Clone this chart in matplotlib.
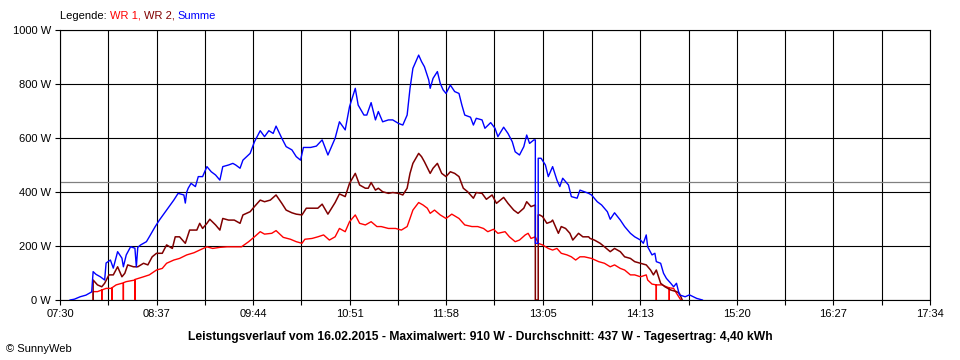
import matplotlib
matplotlib.use("Agg")
import matplotlib.pyplot as plt

plt.rcParams['font.family'] = ['Liberation Sans', 'DejaVu Sans']

# ---------------- data ----------------
summe_times = ["07:37", "07:40", "07:44", "07:48", "07:51", "07:52", "07:53", "07:55", "07:58", "08:01",
               "08:02", "08:05", "08:07", "08:10", "08:13", "08:14", "08:16", "08:19", "08:22", "08:23",
               "08:24", "08:26", "08:30", "08:32", "08:36", "08:39", "08:44", "08:49", "08:52", "08:56",
               "08:57", "08:58", "08:59", "09:01", "09:04", "09:06", "09:09", "09:12", "09:15", "09:18",
               "09:21", "09:23", "09:27", "09:30", "09:32", "09:35", "09:37", "09:42", "09:45", "09:49",
               "09:52", "09:55", "09:58", "10:00", "10:04", "10:07", "10:11", "10:14", "10:17", "10:19",
               "10:24", "10:28", "10:32", "10:36", "10:41", "10:44", "10:48", "10:51", "10:55", "10:57",
               "11:01", "11:03", "11:06", "11:09", "11:11", "11:14", "11:18", "11:21", "11:25", "11:28",
               "11:31", "11:33", "11:35", "11:39", "11:41", "11:43", "11:46", "11:47", "11:49", "11:52",
               "11:54", "11:56", "11:58", "12:01", "12:04", "12:07", "12:09", "12:11", "12:15", "12:17",
               "12:19", "12:23", "12:25", "12:29", "12:32", "12:34", "12:38", "12:41", "12:44", "12:46",
               "12:49", "12:52", "12:54", "12:56", "12:59", "13:00", "13:00", "13:02", "13:02", "13:04",
               "13:07", "13:09", "13:12", "13:15", "13:17", "13:19", "13:23", "13:25", "13:29", "13:31",
               "13:34", "13:37", "13:39", "13:43", "13:46", "13:50", "13:52", "13:55", "13:59", "14:02",
               "14:06", "14:09", "14:13", "14:15", "14:17", "14:18", "14:21", "14:23", "14:24", "14:27",
               "14:29", "14:31", "14:34", "14:36", "14:38", "14:40", "14:44", "14:47", "14:52", "14:56"]
summe_values = [0, 3, 12, 18, 27, 30, 105, 95, 86, 74,
                137, 148, 118, 179, 155, 123, 167, 197, 192, 123,
                195, 204, 216, 234, 271, 296, 333, 370, 395, 389,
                359, 400, 414, 432, 420, 457, 457, 494, 475, 463,
                444, 494, 500, 506, 500, 488, 518, 543, 586, 627,
                605, 627, 617, 644, 599, 568, 556, 531, 518, 565,
                565, 570, 593, 537, 599, 660, 630, 716, 784, 722,
                685, 685, 731, 667, 698, 660, 667, 667, 654, 648,
                685, 784, 858, 907, 883, 864, 815, 784, 821, 846,
                802, 778, 765, 796, 772, 765, 722, 685, 677, 648,
                673, 667, 636, 657, 636, 605, 640, 617, 586, 549,
                537, 568, 611, 580, 593, 593, 210, 210, 525, 525,
                500, 457, 494, 444, 420, 451, 426, 383, 377, 407,
                401, 395, 389, 364, 352, 327, 299, 323, 296, 272,
                247, 234, 222, 210, 241, 197, 167, 173, 142, 136,
                99, 80, 62, 49, 62, 19, 12, 19, 6, 0]

wr2_times = ["07:53", "07:53", "07:56", "07:59", "08:01", "08:04", "08:07", "08:10", "08:13", "08:15",
             "08:17", "08:21", "08:24", "08:28", "08:31", "08:34", "08:37", "08:41", "08:44", "08:48",
             "08:50", "08:53", "08:57", "09:00", "09:05", "09:07", "09:09", "09:12", "09:14", "09:18",
             "09:21", "09:23", "09:27", "09:31", "09:35", "09:37", "09:42", "09:45", "09:49", "09:52",
             "09:56", "10:00", "10:04", "10:07", "10:11", "10:14", "10:18", "10:21", "10:26", "10:29",
             "10:32", "10:36", "10:41", "10:44", "10:48", "10:51", "10:55", "10:58", "11:02", "11:04",
             "11:06", "11:09", "11:11", "11:14", "11:18", "11:21", "11:25", "11:28", "11:31", "11:33",
             "11:35", "11:39", "11:41", "11:43", "11:47", "11:49", "11:52", "11:55", "11:58", "12:01",
             "12:04", "12:07", "12:10", "12:13", "12:17", "12:19", "12:23", "12:26", "12:30", "12:33",
             "12:38", "12:41", "12:45", "12:48", "12:52", "12:54", "12:57", "13:00", "13:00", "13:02",
             "13:02", "13:03", "13:05", "13:08", "13:11", "13:12", "13:16", "13:18", "13:21", "13:24",
             "13:26", "13:30", "13:33", "13:37", "13:38", "13:41", "13:45", "13:48", "13:52", "13:55",
             "13:59", "14:02", "14:06", "14:09", "14:13", "14:17", "14:20", "14:22", "14:24", "14:27",
             "14:30", "14:34", "14:38", "14:40", "14:42"]
wr2_values = [0, 74, 56, 49, 62, 93, 93, 123, 86, 99,
              130, 123, 123, 136, 130, 160, 173, 173, 204, 191,
              234, 234, 210, 259, 259, 284, 265, 284, 299, 278,
              259, 302, 296, 296, 284, 315, 327, 346, 370, 364,
              370, 389, 358, 333, 323, 318, 315, 340, 340, 340,
              355, 318, 361, 393, 383, 432, 469, 426, 414, 414,
              435, 407, 414, 401, 395, 398, 395, 389, 414, 469,
              506, 543, 531, 512, 469, 488, 506, 469, 457, 475,
              469, 457, 414, 401, 377, 398, 395, 373, 389, 358,
              380, 358, 333, 321, 340, 364, 346, 352, 0, 0,
              315, 315, 309, 284, 290, 296, 247, 272, 265, 247,
              222, 247, 234, 234, 228, 222, 210, 197, 179, 191,
              179, 160, 154, 142, 136, 130, 111, 93, 111, 62,
              49, 37, 31, 25, 0]

wr1_times = ["07:53", "07:53", "07:56", "07:59", "07:59", "07:59", "08:02", "08:06", "08:06", "08:06",
             "08:09", "08:13", "08:14", "08:14", "08:14", "08:16", "08:22", "08:22", "08:22", "08:28",
             "08:32", "08:37", "08:41", "08:44", "08:49", "08:53", "08:58", "09:03", "09:07", "09:12",
             "09:16", "09:21", "09:26", "09:30", "09:36", "09:41", "09:45", "09:49", "09:52", "09:57",
             "10:00", "10:05", "10:10", "10:14", "10:18", "10:20", "10:25", "10:29", "10:33", "10:37",
             "10:41", "10:44", "10:48", "10:51", "10:55", "10:58", "11:02", "11:06", "11:10", "11:13",
             "11:18", "11:23", "11:27", "11:31", "11:33", "11:35", "11:39", "11:42", "11:45", "11:47",
             "11:50", "11:54", "11:58", "12:02", "12:07", "12:11", "12:16", "12:20", "12:24", "12:27",
             "12:31", "12:34", "12:39", "12:42", "12:46", "12:49", "12:53", "12:55", "12:57", "13:00",
             "13:02", "13:05", "13:09", "13:12", "13:15", "13:18", "13:22", "13:25", "13:28", "13:31",
             "13:34", "13:39", "13:44", "13:48", "13:52", "13:55", "13:59", "14:02", "14:06", "14:09",
             "14:13", "14:17", "14:18", "14:21", "14:24", "14:24", "14:24", "14:28", "14:31", "14:33",
             "14:33", "14:33", "14:36", "14:38", "14:41"]
wr1_values = [0, 31, 31, 37, 0, 37, 43, 43, 0, 45,
              56, 62, 62, 0, 64, 68, 74, 0, 76, 86,
              93, 111, 117, 136, 148, 154, 167, 175, 185, 197,
              191, 195, 197, 197, 197, 216, 234, 253, 244, 247,
              257, 232, 225, 216, 210, 225, 228, 234, 241, 222,
              234, 265, 253, 290, 315, 284, 278, 290, 272, 272,
              265, 265, 259, 272, 302, 333, 361, 352, 340, 321,
              333, 315, 302, 318, 302, 278, 272, 272, 265, 253,
              262, 247, 253, 234, 216, 222, 241, 247, 228, 234,
              210, 204, 191, 185, 191, 173, 167, 160, 148, 160,
              160, 154, 142, 136, 123, 130, 117, 111, 93, 93,
              86, 93, 74, 59, 56, 0, 56, 56, 49, 45,
              0, 45, 43, 25, 0]

average_w = 437
x_start, x_end = "07:30", "17:34"
x_tick_labels = ["07:30", "08:37", "09:44", "10:51", "11:58", "13:05", "14:13", "15:20", "16:27", "17:34"]
y_ticks = [0, 200, 400, 600, 800, 1000]
y_tick_labels = ["0 W", "200 W", "400 W", "600 W", "800 W", "1000 W"]
title = ("Leistungsverlauf vom 16.02.2015 - Maximalwert: 910 W - Durchschnitt: 437 W "
         "- Tagesertrag: 4,40 kWh")


def to_min(s):
    h, m = s.split(":")
    return int(h) * 60 + int(m)


# ---------------- figure ----------------
W, H = 960, 360
fig = plt.figure(figsize=(W / 100, H / 100), dpi=100)
fig.patch.set_facecolor("white")
ax = fig.add_axes([60 / W, 60 / H, 870 / W, 270 / H])

ax.set_xlim(to_min(x_start), to_min(x_end))
ax.set_ylim(0, 1000)

major = [to_min(s) for s in x_tick_labels]
minor = [(a + b) / 2 for a, b in zip(major[:-1], major[1:])]
ax.set_xticks(major)
ax.set_xticklabels(x_tick_labels)
ax.set_xticks(minor, minor=True)
ax.set_yticks(y_ticks)
ax.set_yticklabels(y_tick_labels)

ax.grid(True, which="both", axis="x", color="black", lw=0.8, zorder=1)
ax.grid(True, which="major", axis="y", color="black", lw=0.8, zorder=1)
ax.set_axisbelow(True)
for sp in ax.spines.values():
    sp.set_color("black")
    sp.set_linewidth(0.8)

ax.tick_params(axis="both", which="both", direction="out", length=3.6, width=0.8,
               color="black", labelsize=8, labelcolor="black")
ax.tick_params(axis="x", which="both", pad=3)
ax.tick_params(axis="y", pad=3)

ax.axhline(average_w, color="#808080", lw=0.9, zorder=1.5)

ax.plot([to_min(t) for t in wr1_times], wr1_values, color="#ff0000", lw=1.0, zorder=3)
ax.plot([to_min(t) for t in wr2_times], wr2_values, color="#800000", lw=1.1, zorder=3)
ax.plot([to_min(t) for t in summe_times], summe_values, color="#0000ff", lw=1.0, zorder=4)

# legend line at top
t0 = fig.text(60 / W, 1 - 16 / H, "Legende: ", fontsize=8, color="black", va="center", ha="left")
t1 = ax.annotate("WR 1, ", xy=(1, 0), xycoords=t0, va="bottom", ha="left", fontsize=8, color="#ff0000")
t2 = ax.annotate("WR 2, ", xy=(1, 0), xycoords=t1, va="bottom", ha="left", fontsize=8, color="#800000")
t3 = ax.annotate("Summe", xy=(1, 0), xycoords=t2, va="bottom", ha="left", fontsize=8, color="#0000ff")

fig.text(0.5, 1 - 337 / H, title, ha="center", va="center", fontsize=8.7, fontweight="bold")
fig.text(6 / W, 1 - 349 / H, "\u00a9 SunnyWeb", ha="left", va="center", fontsize=8)

fig.savefig("out.png", dpi=100)
